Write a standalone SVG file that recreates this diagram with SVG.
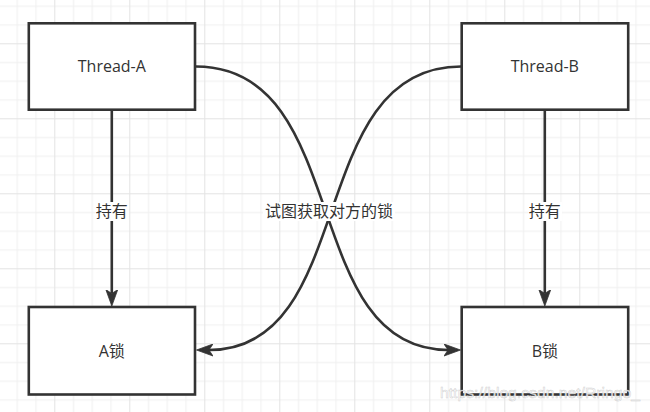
<svg xmlns="http://www.w3.org/2000/svg" width="650" height="412" viewBox="0 0 650 412">
  <style>
    .box { fill: #ffffff; stroke: #333333; stroke-width: 2.6; }
    .lbl { font-family: "Open Sans", "Noto Sans CJK SC", sans-serif; font-size: 16px; fill: #333333; text-anchor: middle; }
    .edge { fill: none; stroke: #333333; stroke-width: 2.6; }
    .lblbg { fill: #ffffff; }
    .wm { font-family: "Liberation Sans", Arial, sans-serif; font-size: 15px; fill: #ffffff; fill-opacity: 0.85; stroke: #c4c4c4; stroke-width: 0.5; stroke-opacity: 0.8; }
  </style>
  <defs>
    <pattern id="grid" patternUnits="userSpaceOnUse" x="54.3" y="43.3" width="75" height="75">
      <rect x="0" y="0" width="75" height="75" fill="#ffffff"/>
      <rect x="18.75" y="0" width="1" height="75" fill="#f0f0f0"/>
      <rect x="37.5" y="0" width="1" height="75" fill="#f0f0f0"/>
      <rect x="56.25" y="0" width="1" height="75" fill="#f0f0f0"/>
      <rect x="0" y="18.75" width="75" height="1" fill="#f0f0f0"/>
      <rect x="0" y="37.5" width="75" height="1" fill="#f0f0f0"/>
      <rect x="0" y="56.25" width="75" height="1" fill="#f0f0f0"/>
      <rect x="0" y="0" width="1" height="75" fill="#e3e3e3"/>
      <rect x="0" y="0" width="75" height="1" fill="#e3e3e3"/>
    </pattern>
    <marker id="arrow" markerUnits="userSpaceOnUse" markerWidth="17" markerHeight="13" viewBox="0 0 17 13" refX="4" refY="6.5" orient="auto">
      <path d="M0,0.5 L16.5,6.5 L0,12.5 L4,6.5 Z" fill="#333333" stroke="#333333" stroke-width="0.8" stroke-linejoin="miter"/>
    </marker>
  </defs>

  <rect x="0" y="0" width="650" height="412" fill="url(#grid)"/>

  <g id="connectors">
    <path class="edge" d="M111.8,110 L111.8,293.5" marker-end="url(#arrow)"/>
    <path class="edge" d="M544.8,110 L544.8,293.5" marker-end="url(#arrow)"/>
    <path class="edge" d="M196,66.5 C353,66.5 298,350 448,350" marker-end="url(#arrow)"/>
    <path class="edge" d="M461,66.5 C304,66.5 359,350 209,350" marker-end="url(#arrow)"/>
    <g id="label-hold-a">
      <rect class="lblbg" x="95" y="202" width="34" height="19"/>
      <text class="lbl" x="111.8" y="217">持有</text>
    </g>
    <g id="label-hold-b">
      <rect class="lblbg" x="528" y="202" width="34" height="19"/>
      <text class="lbl" x="544.8" y="217">持有</text>
    </g>
    <g id="label-try">
      <rect class="lblbg" x="263" y="202" width="132" height="19"/>
      <text class="lbl" x="329" y="217">试图获取对方的锁</text>
    </g>
  </g>

  <g id="thread-a">
    <rect class="box" x="28.8" y="23.3" width="166.2" height="86.4"/>
    <text class="lbl" x="111.8" y="72.3">Thread-A</text>
  </g>
  <g id="thread-b">
    <rect class="box" x="461.7" y="23.3" width="166.5" height="86.4"/>
    <text class="lbl" x="544.8" y="72.3">Thread-B</text>
  </g>
  <g id="lock-a">
    <rect class="box" x="28.8" y="307" width="166.2" height="87.5"/>
    <text class="lbl" x="111.8" y="356.7">A锁</text>
  </g>
  <g id="lock-b">
    <rect class="box" x="461.7" y="307" width="166.5" height="87.5"/>
    <text class="lbl" x="544.8" y="356.7">B锁</text>
  </g>

  <text class="wm" x="440" y="397.5" textLength="200" lengthAdjust="spacingAndGlyphs">https://blog.csdn.net/Rringo_</text>
</svg>
